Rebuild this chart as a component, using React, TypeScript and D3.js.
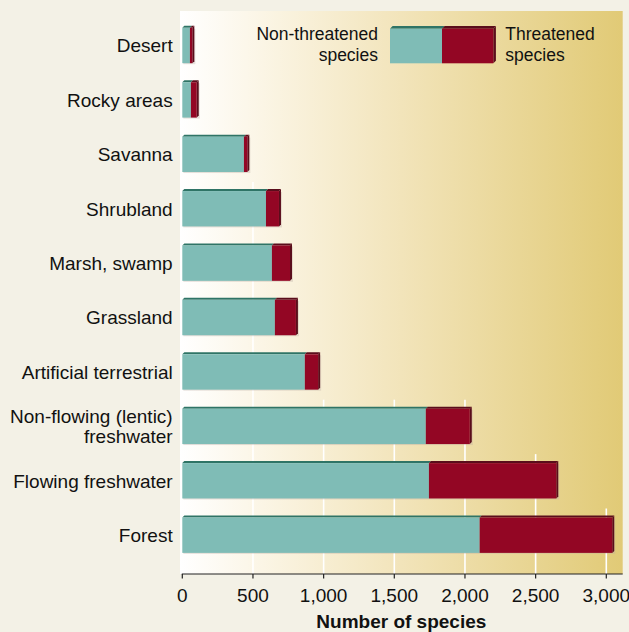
import React from "react";
import * as d3 from "d3";

const categories = [
  "Desert",
  "Rocky areas",
  "Savanna",
  "Shrubland",
  "Marsh, swamp",
  "Grassland",
  "Artificial terrestrial",
  "Non-flowing (lentic)\nfreshwater",
  "Flowing freshwater",
  "Forest",
];
const nonThreatened = [54, 61, 436, 592, 634, 655, 867, 1723, 1745, 2104];
const threatened = [17, 41, 24, 92, 128, 149, 94, 311, 901, 938];
const tickValues = [0, 500, 1000, 1500, 2000, 2500, 3000];
const seriesNames = ["Non-threatened\nspecies", "Threatened\nspecies"];
const axisTitle = "Number of species";

const W = 629;
const H = 632;
const FONT = "'Liberation Sans', Arial, Helvetica, sans-serif";
const TEAL = "#7fbcb6";
const TEAL_DARK = "#2f7466";
const RED = "#930624";
const RED_DARK = "#5a0d1b";

const panel = { x0: 180, x1: 622.7, y0: 11, y1: 574 };

export default function App() {
  const x = d3.scaleLinear().domain([0, 3000]).range([182.3, 606.3]);
  const y = d3
    .scaleBand<string>()
    .domain(categories)
    .range([18.3, 562.4])
    .paddingInner(0.35)
    .paddingOuter(0.175);
  const bw = y.bandwidth();
  const totals = categories.map((_, i) => nonThreatened[i] + threatened[i]);
  const fmt = d3.format(",");
  const d = 2;

  const topFace = (xa: number, xb: number, yt: number, dd: number) =>
    `M${xa},${yt} L${xa + dd},${yt - dd} L${xb + dd},${yt - dd} L${xb},${yt} Z`;
  const sideFace = (xb: number, yt: number, h: number, dd: number) =>
    `M${xb},${yt} L${xb + dd},${yt - dd} L${xb + dd},${yt + h - dd} L${xb},${yt + h} Z`;

  const lg = { x: 390, mid: 442, x1: 493.3, y: 28.7, h: 34.6 };

  return (
    <svg
      width={W}
      height={H}
      style={{ position: "absolute", left: 0, top: 0, display: "block" }}
      fontFamily={FONT}
    >
      <defs>
        <linearGradient id="bg" x1="0" x2="1" y1="0" y2="0">
          <stop offset="0" stopColor="#ffffff" />
          <stop offset="0.15" stopColor="#fcf7ea" />
          <stop offset="0.5" stopColor="#f2e4ba" />
          <stop offset="1" stopColor="#e1ca76" />
        </linearGradient>
      </defs>
      <rect x={0} y={0} width={W} height={H} fill="#f3f1e6" />
      <rect
        x={panel.x0}
        y={panel.y0}
        width={panel.x1 - panel.x0}
        height={panel.y1 - panel.y0}
        fill="url(#bg)"
      />
      {tickValues.slice(1).map((t) => {
        const idx = totals.findIndex((v) => v > t);
        const ys = idx >= 0 ? (y(categories[idx]) as number) - 9 : panel.y1;
        return (
          <line
            key={t}
            x1={x(t)}
            x2={x(t)}
            y1={ys}
            y2={panel.y1}
            stroke="#ffffff"
            strokeWidth={1.6}
          />
        );
      })}
      {categories.map((c, i) => {
        const yt = y(c) as number;
        const x0 = x(0);
        const xm = x(nonThreatened[i]);
        const xe = x(totals[i]);
        return (
          <g key={c}>
            <rect
              x={x0 + 1}
              y={yt + 1}
              width={xe - x0 + d}
              height={bw}
              fill="#b9a9a0"
              opacity={0.35}
            />
            <path d={topFace(x0, xm, yt, d)} fill={TEAL_DARK} />
            <path d={topFace(xm, xe, yt, d)} fill={RED_DARK} />
            <path d={sideFace(xe, yt, bw, d)} fill={RED_DARK} />
            <rect x={x0} y={yt} width={xm - x0} height={bw} fill={TEAL} />
            <rect x={xm} y={yt} width={xe - xm} height={bw} fill={RED} />
          </g>
        );
      })}
      {categories.map((c) => {
        const lines = c.split("\n");
        const cy = (y(c) as number) + bw / 2;
        const lh = 20;
        return (
          <text key={c} x={172.7} textAnchor="end" fontSize={19} fill="#111">
            {lines.map((ln, k) => (
              <tspan
                key={k}
                x={172.7}
                y={cy + 6.8 + (k - (lines.length - 1) / 2) * lh}
              >
                {ln}
              </tspan>
            ))}
          </text>
        );
      })}
      <line
        x1={x(0) - 0.5}
        x2={panel.x1}
        y1={panel.y1}
        y2={panel.y1}
        stroke="#222"
        strokeWidth={1.2}
      />
      {tickValues.map((t) => (
        <g key={t}>
          <line
            x1={x(t)}
            x2={x(t)}
            y1={panel.y1}
            y2={panel.y1 + 4.5}
            stroke="#222"
            strokeWidth={1.2}
          />
          <text x={x(t)} y={601.5} textAnchor="middle" fontSize={19} fill="#111">
            {fmt(t)}
          </text>
        </g>
      ))}
      <text
        x={(panel.x0 + panel.x1) / 2}
        y={628}
        textAnchor="middle"
        fontSize={19}
        fontWeight="bold"
        fill="#111"
      >
        {axisTitle}
      </text>
      <g>
        <path d={topFace(lg.x, lg.mid, lg.y, 2.6)} fill={TEAL_DARK} />
        <path d={topFace(lg.mid, lg.x1, lg.y, 2.6)} fill={RED_DARK} />
        <path d={sideFace(lg.x1, lg.y, lg.h, 2.6)} fill={RED_DARK} />
        <rect x={lg.x} y={lg.y} width={lg.mid - lg.x} height={lg.h} fill={TEAL} />
        <rect x={lg.mid} y={lg.y} width={lg.x1 - lg.mid} height={lg.h} fill={RED} />
        <text x={378} textAnchor="end" fontSize={17.5} fill="#111">
          {seriesNames[0].split("\n").map((ln, k) => (
            <tspan key={k} x={378} y={39.5 + k * 21.5}>
              {ln}
            </tspan>
          ))}
        </text>
        <text x={505.3} textAnchor="start" fontSize={17.5} fill="#111">
          {seriesNames[1].split("\n").map((ln, k) => (
            <tspan key={k} x={505.3} y={39.5 + k * 21.5}>
              {ln}
            </tspan>
          ))}
        </text>
      </g>
    </svg>
  );
}
